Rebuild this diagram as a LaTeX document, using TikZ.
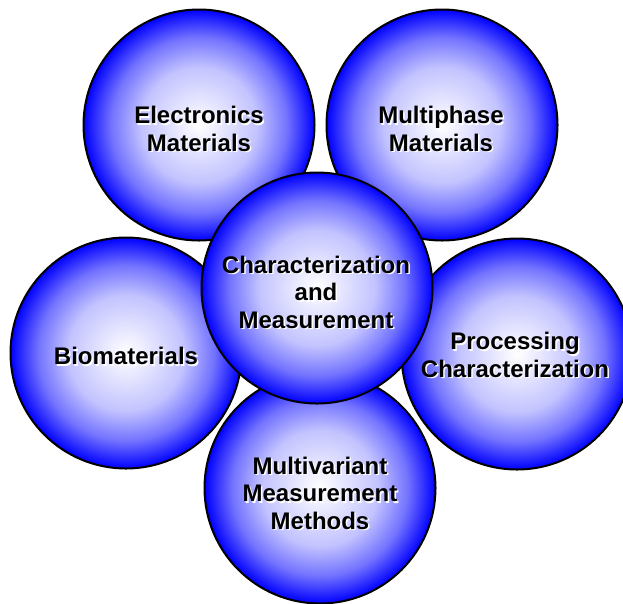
\documentclass[tikz,border=0pt]{standalone}
\usepackage{fontspec}
\setmainfont{Liberation Sans}
\definecolor{ballmid}{RGB}{195,195,255}
\definecolor{ballouter}{RGB}{115,115,255}
\pgfdeclareradialshading{ballshade}{\pgfpoint{0bp}{0bp}}{color(0bp)=(white); color(12.5bp)=(ballmid); color(19bp)=(ballouter); color(25bp)=(blue); color(50bp)=(blue)}
\tikzset{
  ball/.style={circle, draw=black, line width=2pt, shading=ballshade, minimum size=231pt, inner sep=0pt},
  lbl/.style={font=\bfseries\fontsize{24}{27.5}\selectfont, align=center, text=black, inner sep=0pt},
  lblsh/.style={lbl, text=white},
}
\begin{document}
\begin{tikzpicture}[x=1pt,y=-1pt]
\useasboundingbox (0,0) rectangle (623,603);
\clip (0,0) rectangle (623,603);
\node[ball] (e) at (199,125) {};
\node[ball] (m) at (442,125) {};
\node[ball] (b) at (126,353) {};
\node[ball] (p) at (517,354) {};
\node[ball] (v) at (320,488) {};
\node[ball] (c) at (317,288) {};
% labels with white shadow
\node[lblsh] at ([shift={(1.5,1.5)}]199,129) {Electronics\\Materials};
\node[lbl] (et) at (199,129) {Electronics\\Materials};
\node[lblsh] at ([shift={(1.5,1.5)}]441,129) {Multiphase\\Materials};
\node[lbl] (mt) at (441,129) {Multiphase\\Materials};
\node[lblsh] at ([shift={(1.5,1.5)}]126,356) {Biomaterials};
\node[lbl] (bt) at (126,356) {Biomaterials};
\node[lblsh] at ([shift={(1.5,1.5)}]515,355) {Processing\\Characterization};
\node[lbl] (pt) at (515,355) {Processing\\Characterization};
\node[lblsh] at ([shift={(1.5,1.5)}]320,493) {Multivariant\\Measurement\\Methods};
\node[lbl] (vt) at (320,493) {Multivariant\\Measurement\\Methods};
\node[lblsh] at ([shift={(1.5,1.5)}]316,292) {Characterization\\and\\Measurement};
\node[lbl] (ct) at (316,292) {Characterization\\and\\Measurement};
\end{tikzpicture}
\end{document}
